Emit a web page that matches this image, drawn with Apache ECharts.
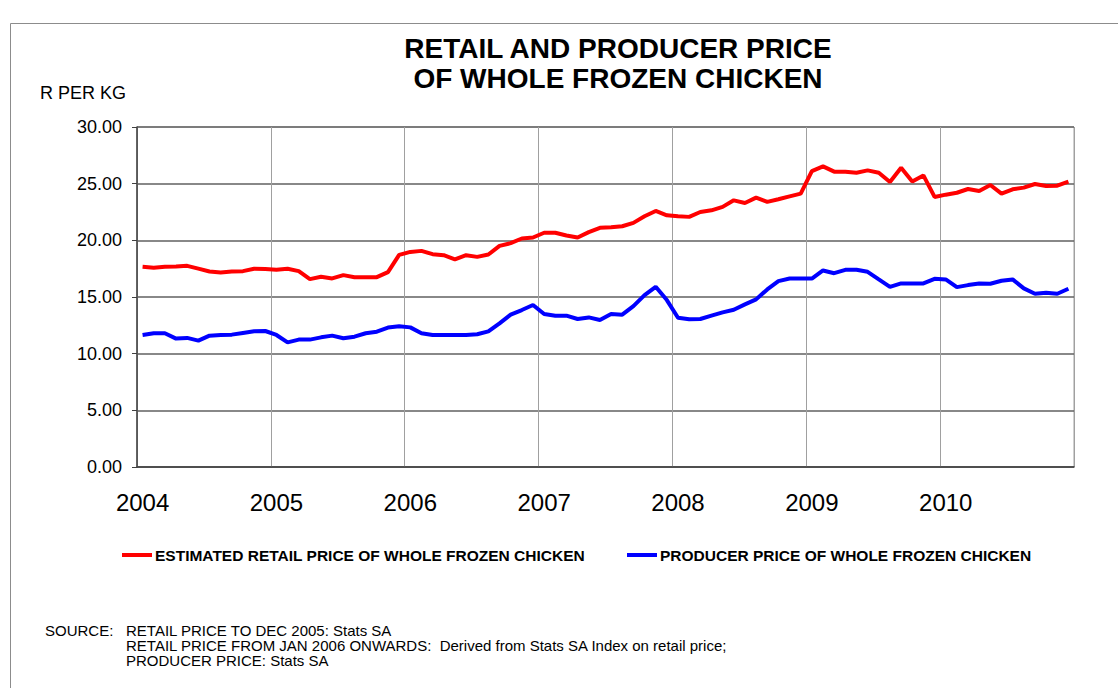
<!DOCTYPE html>
<html>
<head>
<meta charset="utf-8">
<script src="https://cdn.jsdelivr.net/npm/echarts@6/dist/echarts.min.js"></script>
<style>
  html, body { margin: 0; padding: 0; background: #fff; }
  #chart { width: 1118px; height: 688px; }
</style>
</head>
<body>
<div id="chart"></div>
<script>
// monthly values, Jan 2004 .. Dec 2010
const years = ["2004", "2005", "2006", "2007", "2008", "2009", "2010"];
const months = ["Jan", "Feb", "Mar", "Apr", "May", "Jun", "Jul", "Aug", "Sep", "Oct", "Nov", "Dec"];
const categories = years.flatMap(y => months.map(m => m + " " + y));

const retailPrice = [
  17.66, 17.58, 17.66, 17.69, 17.75, 17.50, 17.25, 17.17, 17.25, 17.28, 17.49, 17.46,
  17.40, 17.49, 17.28, 16.58, 16.78, 16.64, 16.93, 16.75, 16.75, 16.75, 17.20, 18.72,
  18.98, 19.07, 18.78, 18.69, 18.31, 18.69, 18.54, 18.75, 19.51, 19.75, 20.16, 20.25,
  20.67, 20.67, 20.43, 20.25, 20.72, 21.10, 21.16, 21.24, 21.54, 22.12, 22.59, 22.21,
  22.12, 22.07, 22.50, 22.65, 22.95, 23.53, 23.30, 23.77, 23.39, 23.62, 23.88, 24.12,
  26.11, 26.53, 26.06, 26.06, 25.97, 26.17, 25.97, 25.15, 26.41, 25.20, 25.73, 23.83,
  24.03, 24.20, 24.53, 24.35, 24.88, 24.12, 24.50, 24.65, 24.97, 24.79, 24.82, 25.18
];
const producerPrice = [
  11.65, 11.80, 11.80, 11.33, 11.39, 11.15, 11.59, 11.65, 11.68, 11.83, 11.97, 12.00,
  11.65, 11.00, 11.24, 11.24, 11.44, 11.59, 11.36, 11.50, 11.80, 11.94, 12.30, 12.41,
  12.32, 11.80, 11.65, 11.65, 11.65, 11.65, 11.71, 11.97, 12.68, 13.44, 13.85, 14.29,
  13.50, 13.35, 13.35, 13.06, 13.20, 12.97, 13.50, 13.44, 14.20, 15.17, 15.90, 14.73,
  13.17, 13.03, 13.06, 13.35, 13.64, 13.88, 14.35, 14.79, 15.67, 16.40, 16.63, 16.63,
  16.63, 17.34, 17.10, 17.40, 17.40, 17.22, 16.55, 15.90, 16.20, 16.20, 16.20, 16.60,
  16.55, 15.87, 16.05, 16.20, 16.17, 16.43, 16.55, 15.76, 15.29, 15.38, 15.29, 15.73
];

const retailName = "ESTIMATED RETAIL PRICE OF WHOLE FROZEN CHICKEN";
const producerName = "PRODUCER PRICE OF WHOLE FROZEN CHICKEN";
const sourceLines = [
  "RETAIL PRICE TO DEC 2005: Stats SA",
  "RETAIL PRICE FROM JAN 2006 ONWARDS:  Derived from Stats SA Index on retail price;",
  "PRODUCER PRICE: Stats SA"
];

const narrow = '"Liberation Sans Narrow", "Arial Narrow", "Liberation Sans", sans-serif';

const chart = echarts.init(document.getElementById("chart"), null, { renderer: "svg" });

const legendText = { fontFamily: narrow, fontWeight: "bold", fontSize: 15.5, color: "#000", padding: [0, 0, 0, -2] };

chart.setOption({
  animation: false,
  grid: { left: 137, top: 127, right: 44, bottom: 221, show: true, borderColor: "#a0a0a0", borderWidth: 1 },
  graphic: [
    { type: "rect", shape: { x: 10.5, y: 23.5, width: 1120, height: 680 }, style: { fill: "none", stroke: "#8c8c8c", lineWidth: 1 } },
    { type: "text", x: 618, y: 33, style: { text: "RETAIL AND PRODUCER PRICE\nOF WHOLE FROZEN CHICKEN", align: "center", font: "bold 28px " + narrow, lineHeight: 30, fill: "#000" } },
    { type: "text", x: 40, y: 84, style: { text: "R PER KG", font: "18px " + narrow, fill: "#000" } },
    { type: "text", x: 45, y: 623, style: { text: "SOURCE:", font: "15px " + narrow, fill: "#000" } },
    { type: "text", x: 126, y: 623, style: { text: sourceLines.join("\n"), font: "15px " + narrow, lineHeight: 15, fill: "#000" } }
  ],
  legend: [
    { data: [retailName], left: 122, top: 547, padding: 0, icon: "rect", itemWidth: 30, itemHeight: 4, textStyle: legendText },
    { data: [producerName], left: 627, top: 547, padding: 0, icon: "rect", itemWidth: 30, itemHeight: 4, textStyle: legendText }
  ],
  xAxis: {
    type: "category",
    data: categories,
    boundaryGap: true,
    axisLine: { lineStyle: { color: "#404040", width: 1.5 } },
    axisTick: { inside: true, length: 5, interval: (i) => i % 3 === 0, lineStyle: { color: "#404040" } },
    axisLabel: {
      interval: (i) => i % 12 === 0,
      formatter: (v) => v.split(" ")[1],
      fontFamily: narrow, fontSize: 24, color: "#000", margin: 23
    },
    splitLine: { show: true, interval: (i) => i % 12 === 0, lineStyle: { color: "#a0a0a0", width: 1 } }
  },
  yAxis: {
    type: "value",
    min: 0, max: 30, interval: 5,
    axisLine: { show: true, lineStyle: { color: "#404040", width: 1.5 } },
    axisTick: { show: true, length: 5, lineStyle: { color: "#404040" } },
    axisLabel: { formatter: (v) => v.toFixed(2), fontFamily: narrow, fontSize: 18, color: "#000", margin: 15 },
    splitLine: { lineStyle: { color: "#606060", width: 1.5 } }
  },
  series: [
    { name: retailName, type: "line", data: retailPrice, showSymbol: false, symbol: "none", itemStyle: { color: "#ff0000" }, lineStyle: { color: "#ff0000", width: 4 } },
    { name: producerName, type: "line", data: producerPrice, showSymbol: false, symbol: "none", itemStyle: { color: "#0000ff" }, lineStyle: { color: "#0000ff", width: 4 } }
  ]
});
</script>
</body>
</html>
